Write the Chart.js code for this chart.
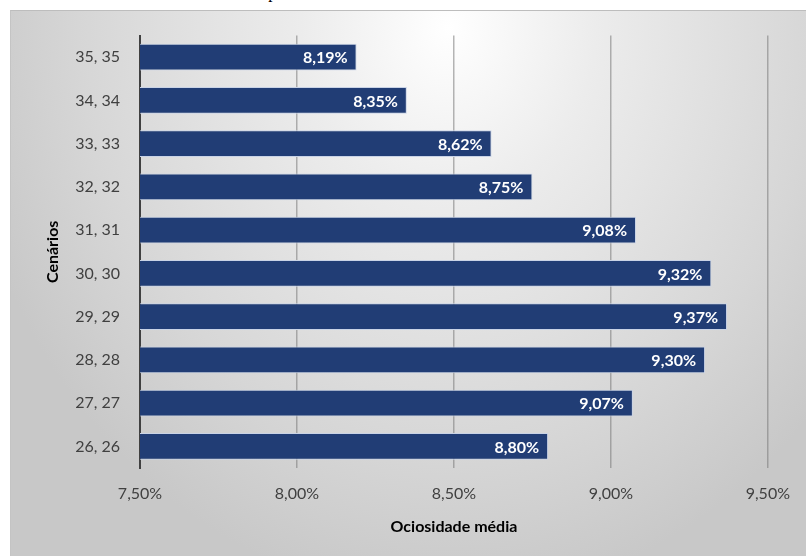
<!DOCTYPE html>
<html>
<head>
<meta charset="utf-8">
<script src="https://cdn.jsdelivr.net/npm/chart.js@4"></script>
<style>
  html, body { margin: 0; padding: 0; background: #fff; width: 806px; height: 556px; overflow: hidden; }
  #caption {
    position: absolute; left: 60px; top: -17px;
    font: 17px "Liberation Serif", serif; color: #000; white-space: nowrap;
  }
  #panel {
    position: absolute; left: 10px; top: 10px; width: 796px; height: 546px;
    border-top: 1px solid #bdbdbd; border-left: 1px solid #c4c4c4;
    box-sizing: border-box; overflow: hidden;
    background: radial-gradient(ellipse 62% 105% at 55% 3%, #ffffff 0%, #ececec 30%, #d6d6d6 75%, #c8c8c8 100%);
  }
  #chart { display: block; position: relative; top: -5px; }
</style>
</head>
<body>
<div id="caption">Gráfico 6 – Ociosidade média por cenário</div>
<div id="panel"><canvas id="chart" width="795" height="550"></canvas></div>
<script>
const scenarios = ["35, 35", "34, 34", "33, 33", "32, 32", "31, 31", "30, 30", "29, 29", "28, 28", "27, 27", "26, 26"];
const idleness = [8.19, 8.35, 8.62, 8.75, 9.08, 9.32, 9.37, 9.30, 9.07, 8.80];
const xMin = 7.5, xMax = 9.5, xStep = 0.5;

const pct = v => v.toFixed(2).replace(".", ",") + "%";
const font = "Lato, 'Open Sans', sans-serif";

// value labels inside the end of each bar
const barLabels = {
  id: "barLabels",
  afterDatasetsDraw(chart) {
    const ctx = chart.ctx;
    const meta = chart.getDatasetMeta(0);
    ctx.save();
    ctx.font = "bold 16px " + font;
    ctx.fillStyle = "#ffffff";
    ctx.textAlign = "right";
    ctx.textBaseline = "middle";
    meta.data.forEach((bar, i) => {
      ctx.fillText(pct(idleness[i]), bar.x - 9, bar.y + 1);
    });
    ctx.restore();
  }
};

new Chart(document.getElementById("chart"), {
  type: "bar",
  data: {
    labels: scenarios,
    datasets: [{
      data: idleness,
      backgroundColor: "#213d75",
      borderColor: "#c9d3e6",
      borderWidth: 1,
      borderSkipped: false,
      categoryPercentage: 0.62,
      barPercentage: 1
    }]
  },
  options: {
    indexAxis: "y",
    responsive: false,
    animation: false,
    layout: { padding: { top: 20, right: 22, left: 0, bottom: 0 } },
    plugins: { legend: { display: false }, tooltip: { enabled: false } },
    scales: {
      x: {
        min: xMin, max: xMax,
        afterFit(scale) { scale.height = 88; },
        ticks: {
          stepSize: xStep,
          padding: 16,
          color: "#404040",
          font: { family: font, size: 16 },
          callback: v => pct(v)
        },
        grid: {
          drawTicks: false,
          color: ctx => ctx.tick && ctx.tick.value === xMin ? "rgba(0,0,0,0)" : "rgba(120,120,120,0.55)",
          lineWidth: 1.5
        },
        border: { display: false },
        title: {
          display: true,
          text: "Ociosidade média",
          color: "#000",
          font: { family: font, size: 16, weight: "bold" },
          padding: { top: 4, bottom: 20 }
        }
      },
      y: {
        afterFit(scale) { scale.width = 129; },
        ticks: {
          padding: 20,
          color: "#404040",
          font: { family: font, size: 16 }
        },
        grid: { display: false, drawTicks: false },
        border: { display: true, color: "#404040", width: 2 },
        title: {
          display: true,
          text: "Cenários",
          color: "#000",
          font: { family: font, size: 16, weight: "bold" },
          padding: { top: 32, bottom: 0 }
        }
      }
    }
  },
  plugins: [barLabels]
});
</script>
</body>
</html>
